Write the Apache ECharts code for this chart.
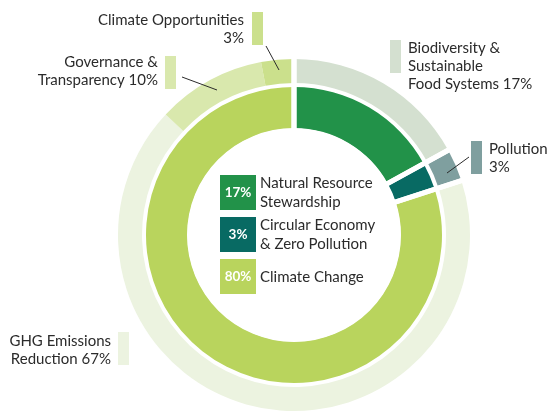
<!DOCTYPE html>
<html>
<head>
<meta charset="utf-8">
<script src="https://cdn.jsdelivr.net/npm/echarts@6/dist/echarts.min.js"></script>
<style>
  html, body { margin: 0; padding: 0; background: #fff; }
  #chart { width: 550px; height: 412px; }
</style>
</head>
<body>
<div id="chart"></div>
<script>
// inner ring: themes
const innerNames = ['Natural Resource\nStewardship', 'Circular Economy\n& Zero Pollution', 'Climate Change'];
const innerValues = [17, 3, 80];
const innerColors = ['#229249', '#086a63', '#b9d45d'];

// outer ring: sub-topics
const outerNames = ['Biodiversity &\nSustainable\nFood Systems', 'Pollution', 'GHG Emissions\nReduction', 'Governance &\nTransparency', 'Climate Opportunities'];
const outerValues = [17, 3, 67, 10, 3];
const outerSep = [' ', '\n', ' ', ' ', '\n'];
const outerColors = ['#d4e0d0', '#7f9f9f', '#ecf3e0', '#d9e8ad', '#cbe08c'];

const FONT = 'Lato, "Noto Sans", sans-serif';
const cx = 294, cy = 235;

// label placement (text anchor, swatch box, optional leader line)
const labelPos = [
  { x: 408, y: 39, align: 'left', sw: [390, 40], line: null },
  { x: 489, y: 140, align: 'left', sw: [471, 141], line: [469, 157, 447, 173] },
  { x: 111, y: 332, align: 'right', sw: [118, 332], line: null },
  { x: 158, y: 53, align: 'right', sw: [165, 56], line: [182, 77, 217, 90] },
  { x: 244, y: 11, align: 'right', sw: [252, 12], line: [266, 46, 279, 70] }
];

const chart = echarts.init(document.getElementById('chart'));

const graphics = [];
outerValues.forEach((v, i) => {
  const lp = labelPos[i];
  graphics.push({
    type: 'rect',
    shape: { x: lp.sw[0], y: lp.sw[1], width: 11, height: 33 },
    style: { fill: outerColors[i] }
  });
  if (lp.line) {
    graphics.push({
      type: 'line',
      z: 10,
      shape: { x1: lp.line[0], y1: lp.line[1], x2: lp.line[2], y2: lp.line[3] },
      style: { stroke: '#2b2b2b', lineWidth: 1 }
    });
  }
});
innerValues.forEach((v, i) => {
  const top = 175 + i * 42;
  graphics.push({
    type: 'rect',
    shape: { x: 220, y: top, width: 36, height: 35 },
    style: { fill: innerColors[i] }
  });
  graphics.push({
    type: 'text',
    x: 238, y: top + 18,
    style: {
      text: v + '%', fill: '#fff', font: 'bold 13.5px ' + FONT,
      align: 'center', verticalAlign: 'middle'
    }
  });
  graphics.push({
    type: 'text',
    x: 260, y: top + 18,
    style: {
      text: innerNames[i], fill: '#2b2b2b', font: '15px ' + FONT,
      lineHeight: 19, align: 'left', verticalAlign: 'middle'
    }
  });
});

chart.setOption({
  animation: false,
  backgroundColor: '#fff',
  graphic: graphics,
  series: [
    {
      type: 'pie',
      center: [cx, cy],
      radius: [107, 148],
      startAngle: 90,
      silent: true,
      label: { show: false },
      labelLine: { show: false },
      data: innerValues.map((v, i) => ({
        name: innerNames[i], value: v, itemStyle: { color: innerColors[i] }
      }))
    },
    {
      type: 'pie',
      center: [cx, cy],
      radius: [152, 176],
      startAngle: 90,
      silent: true,
      avoidLabelOverlap: false,
      label: {
        show: true,
        color: '#2b2b2b',
        fontFamily: FONT,
        fontSize: 15,
        lineHeight: 18,
        formatter: p => p.name + outerSep[p.dataIndex] + p.value + '%'
      },
      labelLine: { show: false },
      labelLayout: params => {
        const lp = labelPos[params.dataIndex];
        return { x: lp.x, y: lp.y, align: lp.align, verticalAlign: 'top' };
      },
      data: outerValues.map((v, i) => ({
        name: outerNames[i], value: v,
        itemStyle: { color: outerColors[i] }
      }))
    },
    {
      // white gaps between the theme groups, across both rings
      type: 'pie',
      center: [cx, cy],
      radius: [104, 180],
      startAngle: 90,
      silent: true,
      z: 5,
      label: { show: false },
      labelLine: { show: false },
      itemStyle: { color: 'rgba(0,0,0,0)', borderColor: '#fff', borderWidth: 5 },
      data: innerValues.map((v, i) => ({ name: 'gap' + i, value: v }))
    }
  ]
});
</script>
</body>
</html>
